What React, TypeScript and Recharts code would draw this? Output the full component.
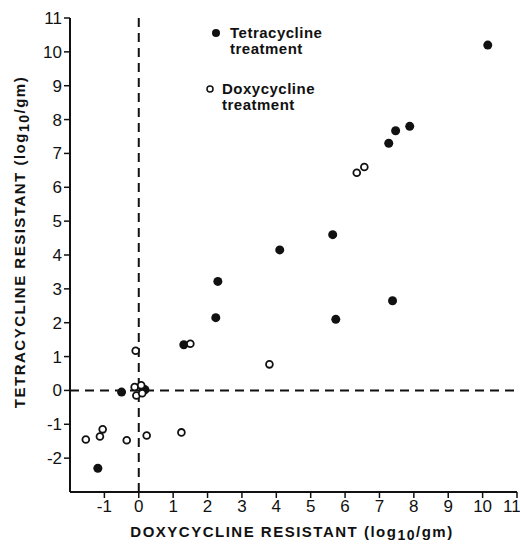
import {
  ScatterChart,
  Scatter,
  XAxis,
  YAxis,
  ReferenceLine,
} from 'recharts';

// tetracycline treatment (filled)
const tetraX = [10.15, 7.88, 7.47, 7.27, 5.64, 4.1, 2.3, 2.24, 1.31, -0.5, -1.19, 5.73, 7.38, 0.12, 0.18];
const tetraY = [10.2, 7.8, 7.67, 7.3, 4.6, 4.15, 3.22, 2.15, 1.35, -0.05, -2.3, 2.1, 2.65, 0.05, 0.02];

// doxycycline treatment (open)
const doxyX = [6.34, 6.56, 1.5, -0.09, 3.8, -0.12, -0.07, 0.07, 0.1, -1.54, -1.13, -1.05, -0.35, 0.23, 1.24];
const doxyY = [6.43, 6.6, 1.38, 1.17, 0.77, 0.1, -0.15, 0.15, -0.08, -1.45, -1.36, -1.15, -1.47, -1.33, -1.24];

const xTicks = [-1, 0, 1, 2, 3, 4, 5, 6, 7, 8, 9, 10, 11];
const yTicks = [-2, -1, 0, 1, 2, 3, 4, 5, 6, 7, 8, 9, 10, 11];

const tetraData = tetraX.map((x, i) => ({ x, y: tetraY[i] }));
const doxyData = doxyX.map((x, i) => ({ x, y: doxyY[i] }));

const FONT = '"Liberation Sans", Arial, sans-serif';

const styles = {
  page: {
    position: 'absolute' as const,
    left: 0,
    top: 0,
    width: 520,
    height: 544,
    background: 'white',
  },
  legend: {
    position: 'absolute' as const,
    left: 210,
    top: 25,
    fontFamily: FONT,
    fontWeight: 'bold' as const,
    fontSize: '15px',
    lineHeight: '16px',
    letterSpacing: '0.5px',
    color: '#111',
  },
};

const FilledDot = (props: any) => (
  <circle cx={props.cx} cy={props.cy} r={4.5} fill="#111" />
);

const OpenDot = (props: any) => (
  <circle cx={props.cx} cy={props.cy} r={3.4} fill="white" stroke="#111" strokeWidth={1.8} />
);

function LegendBox() {
  return (
    <div style={styles.legend}>
      <div style={{ display: 'flex', alignItems: 'flex-start', marginBottom: 24 }}>
        <svg width={14} height={14} style={{ marginTop: 2 }}>
          <circle cx={6} cy={6} r={4} fill="#111" />
        </svg>
        <div style={{ marginLeft: 6 }}>
          Tetracycline
          <br />
          treatment
        </div>
      </div>
      <div style={{ display: 'flex', alignItems: 'flex-start', marginLeft: -6 }}>
        <svg width={14} height={14} style={{ marginTop: 2 }}>
          <circle cx={6} cy={6} r={3} fill="white" stroke="#111" strokeWidth={1.5} />
        </svg>
        <div style={{ marginLeft: 4 }}>
          Doxycycline
          <br />
          treatment
        </div>
      </div>
    </div>
  );
}

function XTitle() {
  return (
    <text
      x={292}
      y={537}
      textAnchor="middle"
      fontFamily={FONT}
      fontWeight="bold"
      fontSize={15}
      letterSpacing={1.5}
      fill="#111"
    >
      DOXYCYCLINE RESISTANT{'   '}(log
      <tspan dy={3} fontSize={14}>10</tspan>
      <tspan dy={-3}>/gm)</tspan>
    </text>
  );
}

function YTitle() {
  return (
    <text
      x={0}
      y={0}
      transform="translate(25, 242) rotate(-90)"
      textAnchor="middle"
      fontFamily={FONT}
      fontWeight="bold"
      fontSize={15}
      letterSpacing={1.5}
      fill="#111"
    >
      TETRACYCLINE RESISTANT{'   '}(log
      <tspan dy={4} fontSize={14}>10</tspan>
      <tspan dy={-4}>/gm)</tspan>
    </text>
  );
}

export default function App() {
  const tickStyle = { fontFamily: FONT, fontSize: 17, fill: '#111' };
  return (
    <div style={styles.page}>
      <ScatterChart
        width={520}
        height={544}
        margin={{ top: 18, right: 3, bottom: 22, left: 20 }}
      >
        <XAxis
          type="number"
          dataKey="x"
          domain={[-2, 11]}
          ticks={xTicks}
          allowDataOverflow
          height={30}
          axisLine={{ stroke: '#111', strokeWidth: 2 }}
          tickLine={{ stroke: '#111', strokeWidth: 1.5 }}
          tickSize={6}
          tick={tickStyle}
          label={<XTitle />}
        />
        <YAxis
          type="number"
          dataKey="y"
          domain={[-3, 11]}
          ticks={yTicks}
          allowDataOverflow
          width={50}
          axisLine={{ stroke: '#111', strokeWidth: 2 }}
          tickLine={{ stroke: '#111', strokeWidth: 1.5 }}
          tickSize={6}
          tick={tickStyle}
          label={<YTitle />}
        />
        <ReferenceLine x={0} stroke="#111" strokeWidth={2} strokeDasharray="9 6" />
        <ReferenceLine y={0} stroke="#111" strokeWidth={2} strokeDasharray="9 6" />
        <Scatter
          name="Tetracycline treatment"
          data={tetraData}
          shape={FilledDot}
          isAnimationActive={false}
        />
        <Scatter
          name="Doxycycline treatment"
          data={doxyData}
          shape={OpenDot}
          isAnimationActive={false}
        />
      </ScatterChart>
      <LegendBox />
    </div>
  );
}
